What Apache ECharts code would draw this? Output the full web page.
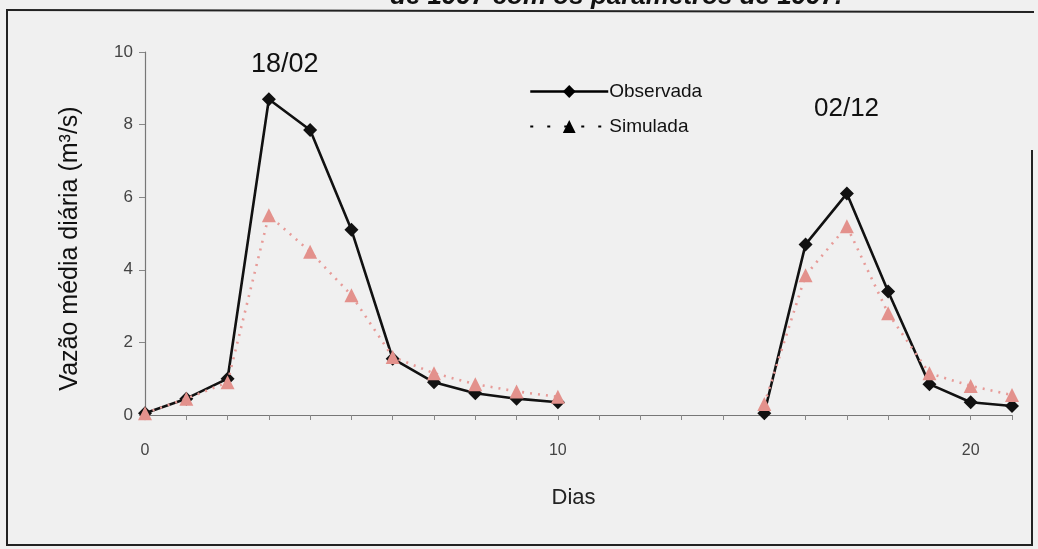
<!DOCTYPE html>
<html><head><meta charset="utf-8">
<script src="https://cdn.jsdelivr.net/npm/echarts@6/dist/echarts.min.js"></script>
<style>html,body{margin:0;padding:0;background:#f0f0f0}#c{width:1038px;height:549px}</style>
</head><body><div id="c"></div>
<script>
// Event 1 (18/02)
const days1 = [0,1,2,3,4,5,6,7,8,9,10];
const obs1  = [0.05,0.45,1.0,8.7,7.85,5.1,1.55,0.9,0.6,0.45,0.35];
const sim1  = [0.05,0.45,0.9,5.5,4.5,3.3,1.6,1.15,0.85,0.65,0.5];
// Event 2 (02/12)
const days2 = [15,16,17,18,19,20,21];
const obs2  = [0.05,4.7,6.1,3.4,0.85,0.35,0.25];
const sim2  = [0.3,3.85,5.2,2.8,1.15,0.8,0.55];
const xTickLabels = [0,10,20];
const yTicks = [0,2,4,6,8,10];

const pair = (xs, ys) => xs.map((x,i)=>[x,ys[i]]);
const obsStyle = {
  type:'line', name:'Observada', symbol:'diamond', symbolSize:14,
  lineStyle:{color:'#111', width:2.6}, itemStyle:{color:'#111'}, z:3
};
const simStyle = {
  type:'line', name:'Simulada', symbol:'triangle', symbolSize:14,
  lineStyle:{color:'#e79b98', width:2.6, type:[2,6]}, itemStyle:{color:'#e3918c'}, z:4
};
const chart = echarts.init(document.getElementById('c'));
chart.setOption({
  backgroundColor:'#f0f0f0',
  animation:false,
  textStyle:{fontFamily:'Liberation Sans, Arial, sans-serif'},
  grid:{left:145, right:26, top:52, bottom:134},
  title:[
    {text:'18/02', left:246, top:46, textStyle:{fontSize:27, fontWeight:'normal', color:'#111'}},
    {text:'02/12', left:809, top:91, textStyle:{fontSize:26, fontWeight:'normal', color:'#111'}}
  ],
  legend:{
    orient:'vertical', left:524, top:77, itemWidth:78, itemHeight:16, itemGap:16,
    textStyle:{fontSize:19, color:'#111', padding:[0,0,0,-4]},
    data:[
      {name:'Observada', itemStyle:{color:'#000'}, lineStyle:{color:'#000', width:2.5}},
      {name:'Simulada', itemStyle:{color:'#000'}, lineStyle:{color:'#000', width:2, type:[3,14]}}
    ]
  },
  xAxis:{
    type:'value', min:0, max:21, interval:1,
    name:'Dias', nameLocation:'middle', nameGap:72,
    nameTextStyle:{fontSize:22, color:'#222', padding:[0,0,0,-10]},
    axisLine:{lineStyle:{color:'#777', width:1.2}},
    axisTick:{length:5, lineStyle:{color:'#888'}},
    axisLabel:{fontSize:16, color:'#444', margin:28, formatter:v=>xTickLabels.includes(v)?String(v):''},
    splitLine:{show:false}
  },
  yAxis:{
    type:'value', min:0, max:10, interval:2,
    name:'Vazão média diária (m³/s)', nameLocation:'middle', nameGap:62,
    nameTextStyle:{fontSize:25, color:'#111', padding:[0,30,0,0]},
    axisLine:{show:true, lineStyle:{color:'#777', width:1.2}},
    axisTick:{show:true, length:6, lineStyle:{color:'#888'}},
    axisLabel:{fontSize:17, color:'#444', margin:12, formatter:v=>yTicks.includes(v)?String(v):''},
    splitLine:{show:false}
  },
  graphic:[
    {type:'text', left:390, top:-16, style:{text:'de 1997 com os parâmetros de 1997.', font:'italic bold 26px Liberation Sans, Arial', fill:'#111'}},
    {type:'polyline', shape:{points:[[7,9],[7,545],[1032,545],[1032,150]]}, style:{stroke:'#222', lineWidth:2, fill:null}},
    {type:'line', shape:{x1:7,y1:10,x2:1034,y2:12}, style:{stroke:'#222', lineWidth:2}}
  ],
  series:[
    Object.assign({data:pair(days1, obs1)}, obsStyle),
    Object.assign({data:pair(days1, sim1)}, simStyle),
    Object.assign({data:pair(days2, obs2)}, obsStyle),
    Object.assign({data:pair(days2, sim2)}, simStyle)
  ]
});
</script></body></html>
